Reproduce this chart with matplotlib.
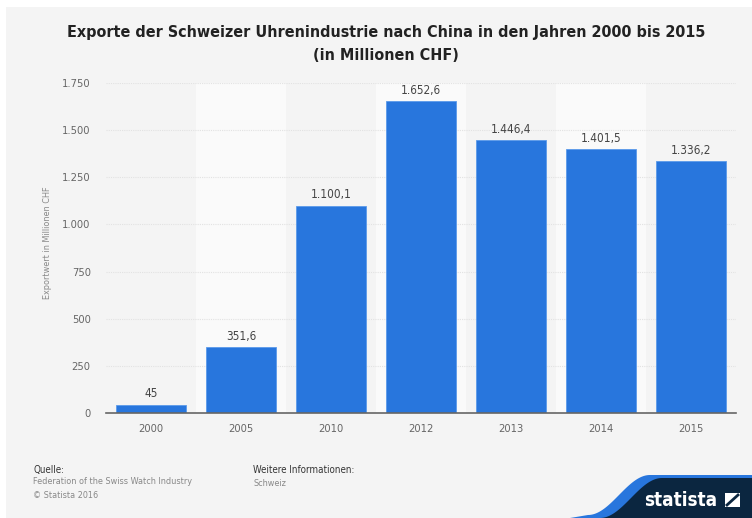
import numpy as np
import matplotlib
matplotlib.use("Agg")
import matplotlib.pyplot as plt
from matplotlib.patches import Rectangle, Polygon

plt.rcParams["font.family"] = "DejaVu Sans"
plt.rcParams["font.stretch"] = "condensed"

# --- data ---
years = ["2000", "2005", "2010", "2012", "2013", "2014", "2015"]
values = [45, 351.6, 1100.1, 1652.6, 1446.4, 1401.5, 1336.2]
value_labels = ["45", "351,6", "1.100,1", "1.652,6", "1.446,4", "1.401,5", "1.336,2"]
y_ticks = [0, 250, 500, 750, 1000, 1250, 1500, 1750]
y_ticklabels = ["0", "250", "500", "750", "1.000", "1.250", "1.500", "1.750"]

W, H = 752, 518
fig = plt.figure(figsize=(W / 100, H / 100), dpi=100)
fig.patch.set_facecolor("white")

def fx(px):
    return px / W

def fy(py):
    return 1 - py / H

# grey page background with thin white margin top/left
fig.patches.append(Rectangle((fx(6), 0), 1, fy(7), transform=fig.transFigure,
                             facecolor="#f4f4f4", edgecolor="none", zorder=-5))

ax = fig.add_axes([fx(106), fy(413), fx(736) - fx(106), fy(83) - fy(413)])
ax.set_facecolor("none")
ax.set_zorder(2)

x = np.arange(len(years))
# alternating column bands
for i in x:
    if i % 2 == 1:
        ax.axvspan(i - 0.5, i + 0.5, color="#fafafa", zorder=0, lw=0)

ax.bar(x, values, width=0.78, color="#2876dd", edgecolor="#5b9aea", linewidth=0.6, zorder=3)
for xi, v, lab in zip(x, values, value_labels):
    ax.text(xi, v + 22, lab, ha="center", va="bottom", fontsize=8.5, color="#444444", zorder=4)

ax.set_xlim(-0.5, len(years) - 0.5)
ax.set_ylim(0, 1750)
ax.set_yticks(y_ticks)
ax.set_yticklabels(y_ticklabels)
ax.set_xticks(x)
ax.set_xticklabels(years)
ax.tick_params(axis="both", length=0, labelsize=8, labelcolor="#666666")
ax.tick_params(axis="y", pad=11)
ax.tick_params(axis="x", pad=8)
ax.grid(axis="y", color="#e2e2e2", linestyle=(0, (1, 1)), linewidth=0.8, zorder=1)
ax.set_axisbelow(True)
for s in ["top", "right", "left"]:
    ax.spines[s].set_visible(False)
ax.spines["bottom"].set_color("#666666")
ax.spines["bottom"].set_linewidth(1.2)
ax.spines["bottom"].set_zorder(5)

fig.text(fx(47), fy(243), "Exportwert in Millionen CHF", rotation=90, ha="center", va="center",
         fontsize=6.5, color="#888888")

# title
title_font = dict(fontsize=11.5, fontweight="bold", color="#222222")
fig.text(fx(386), fy(33), "Exporte der Schweizer Uhrenindustrie nach China in den Jahren 2000 bis 2015",
         ha="center", va="center", **title_font)
fig.text(fx(386), fy(56), "(in Millionen CHF)", ha="center", va="center", **title_font)

# footer
fig.text(fx(33), fy(470), "Quelle:", fontsize=7, color="#333333", va="center")
fig.text(fx(33), fy(482), "Federation of the Swiss Watch Industry", fontsize=6.5, color="#888888", va="center")
fig.text(fx(33), fy(495), "\u00a9 Statista 2016", fontsize=6.5, color="#888888", va="center")
fig.text(fx(253), fy(470), "Weitere Informationen:", fontsize=7, color="#333333", va="center")
fig.text(fx(253), fy(484), "Schweiz", fontsize=6.5, color="#888888", va="center")

# statista logo swoosh
t = np.linspace(0, 1, 40)
cx = 600 + (662 - 600) * t
cy = 518 - 40 * (1 - np.cos(np.pi * t)) / 2
blue = [(fx(px), fy(py - 3)) for px, py in zip(cx - 12, cy)] + [(fx(752), fy(475)), (fx(752), fy(518)), (fx(570), fy(518))]
fig.patches.append(Polygon(blue, closed=True, transform=fig.transFigure,
                           facecolor="#2876dd", edgecolor="none", zorder=1))
navy = [(fx(px), fy(py)) for px, py in zip(cx, cy)] + [(fx(752), fy(478)), (fx(752), fy(518))]
fig.patches.append(Polygon(navy, closed=True, transform=fig.transFigure,
                           facecolor="#0b2640", edgecolor="none", zorder=2))
fig.text(fx(681), fy(500), "statista", fontsize=13.5, fontweight="bold",
         color="white", ha="center", va="center", zorder=3)
fig.patches.append(Rectangle((fx(725), fy(507)), fx(15), fy(493) - fy(507), transform=fig.transFigure,
                             facecolor="white", edgecolor="none", zorder=3))
fig.lines.append(plt.Line2D([fx(727), fx(738)], [fy(505), fy(495)], transform=fig.transFigure,
                            color="#0b2640", lw=2.0, zorder=4))

fig.savefig("out.png", dpi=100, facecolor=fig.get_facecolor())
